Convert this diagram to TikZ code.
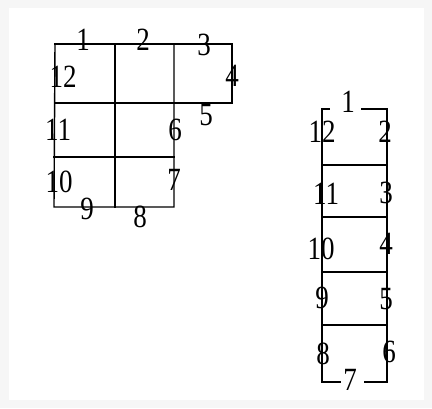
\documentclass[tikz,border=0pt]{standalone}
\usepackage{graphicx}
\usepackage{fontspec}
\setmainfont{Liberation Serif}
\newcommand{\tall}[1]{\scalebox{1}[1.2]{#1}}
\tikzset{num/.style={inner sep=0pt,font=\fontsize{27}{27}\selectfont},
  edge/.style={line width=1.4pt,line cap=rect}}

\begin{document}
\begin{tikzpicture}[x=1pt,y=-1pt]
  \fill[gray!7] (0,0) rectangle (432,408);
  \fill[white] (9,8) rectangle (424,400);
  \useasboundingbox (0,0) rectangle (432,408);

  % left figure
  \draw[edge] (55,44) -- (232,44) -- (232,103) -- (55,103);
  \draw[edge] (55,44) -- (54,207) -- (174,207) -- (174,44);
  \draw[edge] (115,44) -- (115,207);
  \draw[edge] (54,157) -- (174,157);

  \node[num] (l1) at (83,40) {\tall{1}};
  \node[num] (l2) at (143,40) {\tall{2}};
  \node[num] (l3) at (204,45) {\tall{3}};
  \node[num] (l4) at (232,76) {\tall{4}};
  \node[num] (l5) at (206,115) {\tall{5}};
  \node[num] (l6) at (175,130) {\tall{6}};
  \node[num] (l7) at (174,180) {\tall{7}};
  \node[num] (l8) at (140,217) {\tall{8}};
  \node[num] (l9) at (87,209) {\tall{9}};
  \node[num] (l10) at (59,182) {\tall{10}};
  \node[num] (l11) at (58,130) {\tall{11}};
  \node[num] (l12) at (63,77) {\tall{12}};

  % right figure
  \draw[edge] (329,109) -- (322,109) -- (322,382) -- (340,382);
  \draw[edge] (362,109) -- (387,109) -- (387,382) -- (365,382);
  \foreach \y in {165,217,272,325}
    \draw[edge] (322,\y) -- (387,\y);

  \node[num] (r1) at (348,102) {\tall{1}};
  \node[num] (r2) at (385,132) {\tall{2}};
  \node[num] (r3) at (386,193) {\tall{3}};
  \node[num] (r4) at (386,244) {\tall{4}};
  \node[num] (r5) at (386,299) {\tall{5}};
  \node[num] (r6) at (389,352) {\tall{6}};
  \node[num] (r7) at (350,380) {\tall{7}};
  \node[num] (r8) at (323,354) {\tall{8}};
  \node[num] (r9) at (322,298) {\tall{9}};
  \node[num] (r10) at (321,249) {\tall{10}};
  \node[num] (r11) at (326,194) {\tall{11}};
  \node[num] (r12) at (322,132) {\tall{12}};
\end{tikzpicture}
\end{document}
